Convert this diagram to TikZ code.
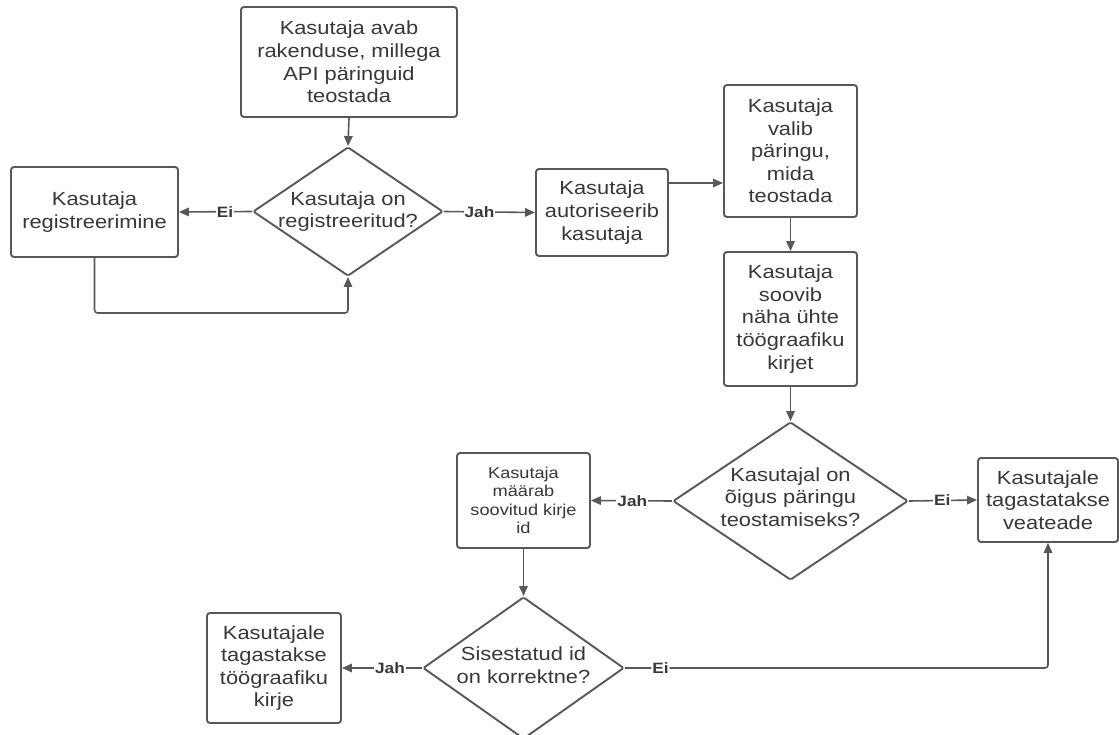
\documentclass[tikz,border=0pt]{standalone}
\usepackage{fontspec}
\setmainfont{Liberation Sans}[FakeStretch=1.15]
\usetikzlibrary{shapes.geometric,arrows.meta}
\definecolor{linec}{HTML}{585858}
\definecolor{textc}{HTML}{383838}
\tikzset{
  base/.style={draw=linec, line width=1.9pt, text=textc, align=center, inner sep=0pt,
    font=\fontsize{19}{22.6}\selectfont},
  boxn/.style={base, rectangle, rounded corners=3pt},
  dia/.style={draw=linec, line width=1.9pt, diamond, inner sep=0pt, rounded corners=1.5pt},
  txt/.style={text=textc, align=center, inner sep=0pt, font=\fontsize{19}{22.6}\selectfont},
  smalltxt/.style={font=\fontsize{15.8}{18.4}\selectfont},
  arr/.style={draw=linec, line width=1.6pt, -{Triangle[length=10pt,width=8.5pt]}},
  lbl/.style={fill=white, text=textc, inner sep=1pt, font=\fontsize{15}{17}\selectfont\bfseries}
}
\begin{document}
\begin{tikzpicture}[x=1pt,y=-1pt]
\useasboundingbox (0,0) rectangle (1119,735);
\fill[white] (0,0) rectangle (1119,735);

% boxes
\node[boxn, minimum width=216pt, minimum height=110pt] (top) at (349,62)
  {Kasutaja avab\\rakenduse, millega\\API päringuid\\teostada};
\node[boxn, minimum width=167pt, minimum height=90pt] (reg) at (94.5,212)
  {Kasutaja\\registreerimine};
\node[boxn, minimum width=132pt, minimum height=87pt] (auth) at (602,212.5)
  {Kasutaja\\autoriseerib\\kasutaja};
\node[boxn, minimum width=133pt, minimum height=132pt] (valib) at (790.5,151)
  {Kasutaja\\valib\\päringu,\\mida\\teostada};
\node[boxn, minimum width=133pt, minimum height=134pt] (soov) at (790.5,319)
  {Kasutaja\\soovib\\näha ühte\\töögraafiku\\kirjet};
\node[boxn, smalltxt, minimum width=133pt, minimum height=95pt] (maar) at (523.5,500.5)
  {Kasutaja\\määrab\\soovitud kirje\\id};
\node[boxn, minimum width=140pt, minimum height=84pt] (viga) at (1048,500)
  {Kasutajale\\tagastatakse\\veateade};
\node[boxn, minimum width=134pt, minimum height=110pt] (tag) at (274,668)
  {Kasutajale\\tagastakse\\töögraafiku\\kirje};

% diamonds
\node[dia, minimum width=190pt, minimum height=129pt] (d1) at (348,211.5) {};
\node[txt] (d1t) at (348,211.5) {Kasutaja on\\registreeritud?};
\node[dia, minimum width=235pt, minimum height=158pt] (d2) at (790.5,501) {};
\node[txt] (d2t) at (790.5,497) {Kasutajal on\\õigus päringu\\teostamiseks?};
\node[dia, minimum width=201pt, minimum height=142pt] (d3) at (523.5,668) {};
\node[txt] (d3t) at (523.5,665) {Sisestatud id\\on korrektne?};

% connectors
\draw[arr] (top.south) -- (d1.north);
\draw[arr] (d1.west) -- node[lbl, pos=0.37] {Ei} (reg.east);
\coordinate (lp) at (348,313);
\draw[arr, rounded corners=3pt] (reg.south) |- (lp) -- (d1.south);
\draw[arr] (d1.east) -- node[lbl, pos=0.39] {Jah} (auth.west);
\coordinate (a1) at ([yshift=29.5pt]auth.east);
\draw[arr] (a1) -- (a1 -| valib.west);
\draw[arr] (valib.south) -- (soov.north);
\draw[arr] (soov.south) -- (d2.north);
\draw[arr] (d2.west) -- node[lbl, pos=0.49] {Jah} (maar.east);
\draw[arr] (d2.east) -- node[lbl, pos=0.49] {Ei} (viga.west);
\draw[arr] (maar.south) -- (d3.north);
\draw[arr] (d3.west) -- node[lbl, pos=0.4] {Jah} (tag.east);
\draw[arr, rounded corners=3pt] (d3.east) -| node[lbl, pos=0.042] {Ei} (viga.south);
\end{tikzpicture}
\end{document}
